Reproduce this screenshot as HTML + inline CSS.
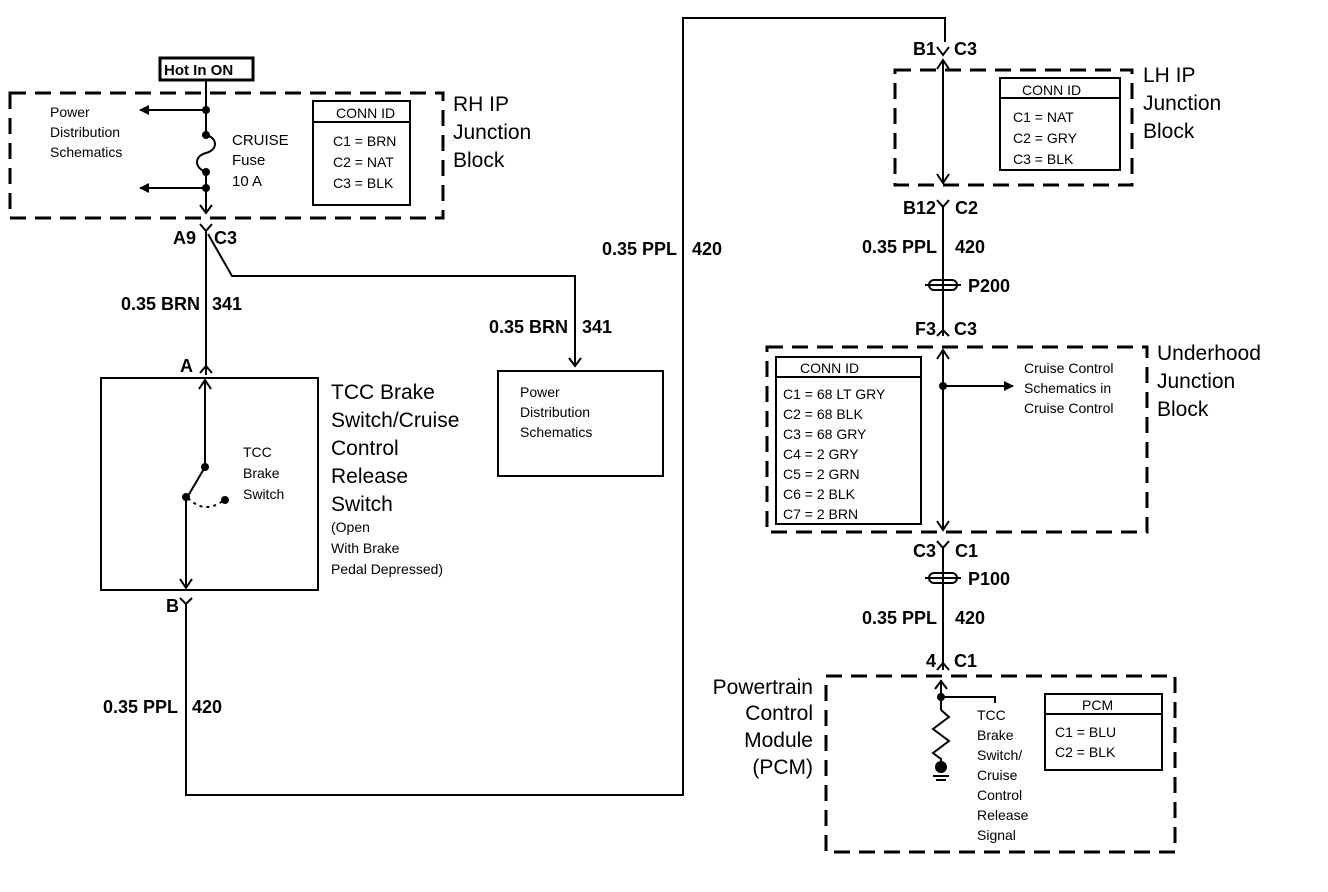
<!DOCTYPE html>
<html><head><meta charset="utf-8"><style>
html,body{margin:0;padding:0;background:#fff;}
svg{display:block;font-family:"Liberation Sans",Arial,sans-serif;}
</style></head><body>
<svg width="1328" height="892" viewBox="0 0 1328 892" xmlns="http://www.w3.org/2000/svg">
<defs>
<marker id="ah" markerWidth="10" markerHeight="10" refX="9" refY="5" orient="auto" markerUnits="userSpaceOnUse">
<path d="M0,0 L10,5 L0,10 z" fill="#000"/></marker>
</defs>
<g stroke="#000" fill="none" stroke-width="2">
<!-- Hot in ON -->
<rect x="160" y="58" width="93" height="22" stroke-width="3"/>
<!-- RH IP box -->
<rect x="10" y="93" width="433" height="125" stroke-dasharray="16,9" stroke-width="3"/>
<line x1="206" y1="80" x2="206" y2="135"/>
<path d="M206,135 C218,138 218,150 206,153 C194,156 194,168 206,172"/>
<line x1="206" y1="172" x2="206" y2="213"/>
<path d="M200,205 L206,213 L212,205"/>
<line x1="206" y1="110" x2="140" y2="110" marker-end="url(#ah)"/>
<line x1="206" y1="188" x2="140" y2="188" marker-end="url(#ah)"/>
<rect x="313" y="101" width="97" height="104"/>
<line x1="313" y1="122" x2="410" y2="122"/>
<!-- A9 connector -->
<path d="M200,224 L206,231 L212,224"/>
<line x1="206" y1="231" x2="206" y2="375" />
<path d="M200,373 L206,366 L212,373"/>
<path d="M208,234 L232,276 L575,276 L575,365" />
<path d="M569,358 L575,366 L581,358"/>
<!-- switch box -->
<rect x="101" y="378" width="217" height="212"/>
<line x1="205" y1="380" x2="205" y2="467"/>
<path d="M199,389 L205,380 L211,389"/>
<line x1="205" y1="467" x2="188" y2="496"/>
<path d="M188,498 Q205,515 224,500" stroke-dasharray="3,4"/>
<line x1="186" y1="498" x2="186" y2="588"/>
<path d="M180,579 L186,588 L192,579"/>
<path d="M180,598 L186,604 L192,598"/>
<path d="M186,604 L186,795 L683,795 L683,18 L945,18 L945,42"/>
<!-- Power dist box -->
<rect x="498" y="371" width="165" height="105"/>
<!-- LH IP -->
<path d="M937,47 L943,55 L949,47"/>
<rect x="895" y="70" width="237" height="115" stroke-dasharray="16,9" stroke-width="3"/>
<line x1="943" y1="60" x2="943" y2="183"/>
<path d="M937,69 L943,60 L949,69"/>
<path d="M937,174 L943,183 L949,174"/>
<rect x="1000" y="78" width="120" height="92"/>
<line x1="1000" y1="98" x2="1120" y2="98"/>
<path d="M937,200 L943,207 L949,200"/>
<line x1="943" y1="205" x2="943" y2="336"/>
<path d="M937,336 L943,330 L949,336"/>
<!-- P200 -->
<rect x="929" y="280" width="28" height="10" rx="5"/>
<line x1="925" y1="285" x2="961" y2="285"/>
<!-- Underhood -->
<rect x="767" y="347" width="380" height="185" stroke-dasharray="16,9" stroke-width="3"/>
<line x1="943" y1="350" x2="943" y2="530"/>
<path d="M937,359 L943,350 L949,359"/>
<path d="M937,521 L943,530 L949,521"/>
<line x1="943" y1="386" x2="1013" y2="386" marker-end="url(#ah)"/>
<rect x="776" y="357" width="145" height="167"/>
<line x1="776" y1="377" x2="921" y2="377"/>
<path d="M937,541 L943,548 L949,541"/>
<line x1="943" y1="546" x2="943" y2="670"/>
<rect x="929" y="573" width="28" height="10" rx="5"/>
<line x1="925" y1="578" x2="961" y2="578"/>
<path d="M937,670 L943,663 L949,670"/>
<!-- PCM -->
<rect x="826" y="676" width="349" height="176" stroke-dasharray="16,9" stroke-width="3"/>
<line x1="941" y1="680" x2="941" y2="710"/>
<path d="M935,689 L941,681 L947,689"/>
<path d="M941,697 L995,697 L995,703"/>
<path d="M941,710 L949,717 L933,729 L949,741 L933,753 L941,759 L941,762"/>
<line x1="933" y1="776" x2="949" y2="776"/><line x1="936" y1="780" x2="946" y2="780"/>
<rect x="1045" y="694" width="117" height="76"/>
<line x1="1045" y1="714" x2="1162" y2="714"/>
</g>
<g fill="#000">
<circle cx="206" cy="110" r="4"/><circle cx="206" cy="135" r="4"/><circle cx="206" cy="172" r="4"/><circle cx="206" cy="188" r="4"/>
<circle cx="205" cy="467" r="4"/><circle cx="186" cy="497" r="4"/><circle cx="225" cy="500" r="4"/>
<circle cx="943" cy="386" r="4"/><circle cx="941" cy="697" r="4"/><circle cx="941" cy="767" r="6"/>
</g>
<g fill="#000" font-size="14">
<text x="164" y="75" font-weight="bold" font-size="15">Hot In ON</text>
<text x="50" y="117">Power</text><text x="50" y="137">Distribution</text><text x="50" y="157">Schematics</text>
<text x="232" y="145" font-size="15">CRUISE</text><text x="232" y="165" font-size="15">Fuse</text><text x="232" y="186" font-size="15">10 A</text>
<text x="336" y="118">CONN ID</text>
<text x="333" y="146">C1 = BRN</text><text x="333" y="167">C2 = NAT</text><text x="333" y="188">C3 = BLK</text>
<g font-size="21"><text x="453" y="111">RH IP</text><text x="453" y="139">Junction</text><text x="453" y="167">Block</text></g>
<g font-size="18" font-weight="bold">
<text x="196" y="244" text-anchor="end">A9</text><text x="214" y="244">C3</text>
<text x="200" y="310" text-anchor="end">0.35 BRN</text><text x="212" y="310">341</text>
<text x="193" y="372" text-anchor="end">A</text>
<text x="179" y="612" text-anchor="end">B</text>
<text x="568" y="333" text-anchor="end">0.35 BRN</text><text x="582" y="333">341</text>
<text x="178" y="713" text-anchor="end">0.35 PPL</text><text x="192" y="713">420</text>
<text x="677" y="255" text-anchor="end">0.35 PPL</text><text x="692" y="255">420</text>
<text x="936" y="55" text-anchor="end">B1</text><text x="954" y="55">C3</text>
<text x="936" y="214" text-anchor="end">B12</text><text x="955" y="214">C2</text>
<text x="937" y="253" text-anchor="end">0.35 PPL</text><text x="955" y="253">420</text>
<text x="968" y="292">P200</text>
<text x="936" y="335" text-anchor="end">F3</text><text x="954" y="335">C3</text>
<text x="936" y="557" text-anchor="end">C3</text><text x="955" y="557">C1</text>
<text x="968" y="585">P100</text>
<text x="937" y="624" text-anchor="end">0.35 PPL</text><text x="955" y="624">420</text>
<text x="936" y="667" text-anchor="end">4</text><text x="954" y="667">C1</text>
</g>
<text x="243" y="457">TCC</text><text x="243" y="478">Brake</text><text x="243" y="499">Switch</text>
<g font-size="21"><text x="331" y="399">TCC Brake</text><text x="331" y="427">Switch/Cruise</text><text x="331" y="455">Control</text><text x="331" y="483">Release</text><text x="331" y="511">Switch</text></g>
<text x="331" y="532">(Open</text><text x="331" y="553">With Brake</text><text x="331" y="574">Pedal Depressed)</text>
<text x="520" y="397">Power</text><text x="520" y="417">Distribution</text><text x="520" y="437">Schematics</text>
<text x="1022" y="95">CONN ID</text>
<text x="1013" y="122">C1 = NAT</text><text x="1013" y="143">C2 = GRY</text><text x="1013" y="164">C3 = BLK</text>
<g font-size="21"><text x="1143" y="82">LH IP</text><text x="1143" y="110">Junction</text><text x="1143" y="138">Block</text></g>
<text x="800" y="373">CONN ID</text>
<text x="783" y="399">C1 = 68 LT GRY</text><text x="783" y="419">C2 = 68 BLK</text><text x="783" y="439">C3 = 68 GRY</text><text x="783" y="459">C4 = 2 GRY</text><text x="783" y="479">C5 = 2 GRN</text><text x="783" y="499">C6 = 2 BLK</text><text x="783" y="519">C7 = 2 BRN</text>
<text x="1024" y="373">Cruise Control</text><text x="1024" y="393">Schematics in</text><text x="1024" y="413">Cruise Control</text>
<g font-size="21"><text x="1157" y="360">Underhood</text><text x="1157" y="388">Junction</text><text x="1157" y="416">Block</text></g>
<text x="977" y="720">TCC</text><text x="977" y="740">Brake</text><text x="977" y="760">Switch/</text><text x="977" y="780">Cruise</text><text x="977" y="800">Control</text><text x="977" y="820">Release</text><text x="977" y="840">Signal</text>
<text x="1082" y="710">PCM</text>
<text x="1055" y="737">C1 = BLU</text><text x="1055" y="757">C2 = BLK</text>
<g font-size="21" text-anchor="end"><text x="813" y="694">Powertrain</text><text x="813" y="720">Control</text><text x="813" y="747">Module</text><text x="813" y="774">(PCM)</text></g>
</g>
</svg>
</body></html>
